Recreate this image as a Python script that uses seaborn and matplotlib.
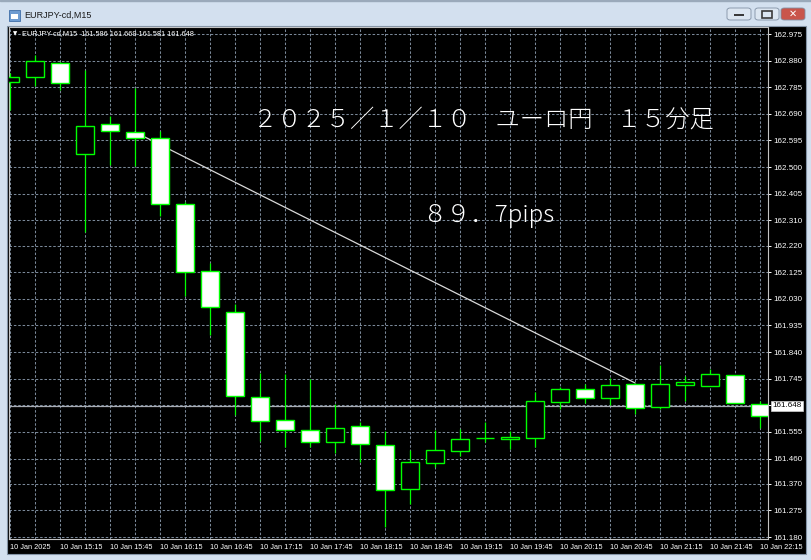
import matplotlib
matplotlib.use("Agg")
import matplotlib.pyplot as plt
import matplotlib.patches as mpatches
import matplotlib.transforms as mtransforms
import numpy as np
import seaborn as sns

# --- DATA (EURJPY M15, 10 Jan 2025) ---
bar_times = ['14:45', '15:00', '15:15', '15:30', '15:45', '16:00', '16:15', '16:30',
             '16:45', '17:00', '17:15', '17:30', '17:45', '18:00', '18:15', '18:30',
             '18:45', '19:00', '19:15', '19:30', '19:45', '20:00', '20:15', '20:30',
             '20:45', '21:00', '21:15', '21:30', '21:45', '22:00', '22:15']

opens = [162.804, 162.822, 162.872, 162.547, 162.654, 162.625, 162.604, 162.368,
         162.129, 161.983, 161.680, 161.598, 161.562, 161.519, 161.576, 161.508,
         161.351, 161.444, 161.487, 161.533, 161.530, 161.533, 161.662, 161.708,
         161.676, 161.726, 161.644, 161.722, 161.719, 161.758, 161.655]
highs = [162.836, 162.900, 162.875, 162.847, 162.682, 162.782, 162.629, 162.375,
         162.158, 162.011, 161.765, 161.762, 161.744, 161.655, 161.590, 161.558,
         161.490, 161.562, 161.565, 161.590, 161.558, 161.697, 161.715, 161.726,
         161.747, 161.730, 161.794, 161.755, 161.780, 161.758, 161.665]
lows = [162.704, 162.789, 162.775, 162.268, 162.508, 162.504, 162.326, 162.040,
        161.901, 161.615, 161.523, 161.501, 161.501, 161.480, 161.448, 161.216,
        161.298, 161.430, 161.469, 161.519, 161.494, 161.501, 161.637, 161.658,
        161.651, 161.619, 161.637, 161.665, 161.719, 161.658, 161.569]
closes = [162.822, 162.879, 162.800, 162.647, 162.629, 162.604, 162.368, 162.126,
          162.001, 161.683, 161.594, 161.562, 161.519, 161.569, 161.512, 161.348,
          161.448, 161.490, 161.530, 161.534, 161.537, 161.665, 161.708, 161.676,
          161.722, 161.640, 161.726, 161.733, 161.762, 161.658, 161.612]

y_ticks = [162.975, 162.880, 162.785, 162.690, 162.595, 162.500, 162.405, 162.310,
           162.220, 162.125, 162.030, 161.935, 161.840, 161.745, 161.650, 161.555,
           161.460, 161.370, 161.275, 161.180]
bid_price = 161.648

# trend line drawn on the chart (bar index, price)
trend_x = [5, 25]
trend_y = [162.625, 161.730]

header = 'EURJPY-cd,M15  161.586 161.669 161.581 161.648'
title_jp = '２０２５／１／１０　ユーロ円　１５分足'
pips_txt = '８９．7pips'

# --- STYLE ---
sns.set_style("dark", {"axes.facecolor": "black"})
plt.rcParams['font.family'] = ['Liberation Sans', 'DejaVu Sans']

W, H = 812, 560
def fx(px):
    return px / W
def fy(py):
    return 1 - py / H

fig = plt.figure(figsize=(W / 100, H / 100), dpi=100)
fig.patch.set_facecolor('#d3e0ef')

# window chrome (kept below the axes)
fig.add_artist(mpatches.Rectangle((0, fy(1)), 1, 1 / H, transform=fig.transFigure,
                                  color='#9aa9ba', zorder=-3))
fig.add_artist(mpatches.Rectangle((fx(7), fy(554)), (806 - 7) / W, (554 - 26) / H,
                                  transform=fig.transFigure, facecolor='black',
                                  edgecolor='#8494a6', lw=0.8, zorder=-3))
# little window icon
fig.add_artist(mpatches.Rectangle((fx(9), fy(21)), 11 / W, 11 / H, transform=fig.transFigure,
                                  facecolor='#6d9bd1', edgecolor='#3f6ea8', lw=0.6))
fig.add_artist(mpatches.Rectangle((fx(11), fy(19)), 7 / W, 5 / H, transform=fig.transFigure,
                                  facecolor='white', lw=0))
fig.text(fx(24), fy(15), 'EURJPY-cd,M15', color='#1a1a1a', fontsize=6.5,
         va='center', ha='left')

# min / max / close buttons
for x0, x1, fc in [(727, 751, '#dce6f1'), (755, 779, '#dce6f1'), (781, 805, '#c9554b')]:
    fig.add_artist(mpatches.FancyBboxPatch((fx(x0), fy(20)), (x1 - x0) / W, 12 / H,
                                           boxstyle='round,pad=0,rounding_size=0.004',
                                           transform=fig.transFigure, facecolor=fc,
                                           edgecolor='#8090a4', lw=0.6))
fig.add_artist(mpatches.Rectangle((fx(734), fy(16)), 10 / W, 2.5 / H, transform=fig.transFigure,
                                  facecolor='#3a3a3a', lw=0))
fig.add_artist(mpatches.Rectangle((fx(762), fy(17.5)), 10 / W, 7 / H, transform=fig.transFigure,
                                  facecolor='none', edgecolor='#3a3a3a', lw=1.2))
fig.text(fx(793), fy(14), '✕', color='white', fontsize=7, fontweight='bold',
         family=['DejaVu Sans'], ha='center', va='center')

# --- CHART ---
ax = fig.add_axes([fx(9), fy(539), (768 - 9) / W, (539 - 27) / H])
ax.set_facecolor('black')

x = np.arange(len(opens))
o = np.array(opens)
c = np.array(closes)
up = c >= o
body_lo = np.minimum(o, c)
body_h = np.abs(c - o)

green = '#00ff00'
ax.vlines(x, lows, highs, color=green, lw=0.9, zorder=3)
ax.bar(x[up], body_h[up], bottom=body_lo[up], width=0.7, color='black',
       edgecolor=green, lw=1.0, zorder=4)
ax.bar(x[~up], body_h[~up], bottom=body_lo[~up], width=0.7, color='white',
       edgecolor=green, lw=1.0, zorder=4)

# trend line and bid line
sns.lineplot(x=trend_x, y=trend_y, ax=ax, color='#d9d9d9', lw=0.9, zorder=3.5)
ax.axhline(bid_price, color='#a8acb4', lw=0.9, zorder=2)

ax.set_xlim(-0.04, 30.32)
ax.set_ylim(161.173, 163.000)

ax.set_xticks(x)
xt_labels = []
for i, t in enumerate(bar_times):
    if i == 0:
        xt_labels.append('10 Jan 2025')
    elif i % 2 == 0:
        xt_labels.append('10 Jan ' + t)
    else:
        xt_labels.append('')
ax.set_xticklabels(xt_labels)
for t in ax.get_xticklabels():
    t.set_ha('left')

ax.yaxis.tick_right()
ax.set_yticks(y_ticks)
ax.set_yticklabels(['' if v == 161.650 else f'{v:.3f}' for v in y_ticks])

ax.tick_params(axis='both', colors='white', labelcolor='white', labelsize=5.8,
               length=2.2, width=0.7, direction='out')
ax.tick_params(axis='x', pad=1.4, labelsize=5.3)
ax.tick_params(axis='y', pad=2)
ax.set_xlabel('')
ax.set_ylabel('')

ax.grid(True, color='#7a8899', ls=(0, (2.4, 1.8)), lw=0.75, zorder=1)
ax.set_axisbelow(True)
for s in ax.spines.values():
    s.set_visible(True)
    s.set_color('#c4c4c4')
    s.set_linewidth(0.8)

# bid price label on the price scale
trans = mtransforms.blended_transform_factory(ax.transAxes, ax.transData)
ax.text(1.006, bid_price, f'{bid_price:.3f}', transform=trans, color='black', fontsize=5.8,
        va='center', ha='left', zorder=6,
        bbox=dict(boxstyle='square,pad=0.18', facecolor='white', edgecolor='#d0d0d0', lw=0.5))

# header line inside the chart
fig.text(fx(13), fy(33.5), '▼', color='white', fontsize=4, family=['DejaVu Sans'],
         ha='left', va='center')
fig.text(fx(22), fy(34), header, color='white', fontsize=5.3, ha='left', va='center')

# annotations
fig.text(fx(253), fy(127), title_jp, color='white', fontsize=17.5, fontweight='light',
         family=['Noto Sans CJK JP', 'DejaVu Sans'], ha='left', va='baseline')
fig.text(fx(422), fy(222), pips_txt, color='white', fontsize=17.5, fontweight='light',
         family=['Noto Sans CJK JP', 'DejaVu Sans'], ha='left', va='baseline')

fig.savefig('out.png', dpi=100, facecolor=fig.get_facecolor())
